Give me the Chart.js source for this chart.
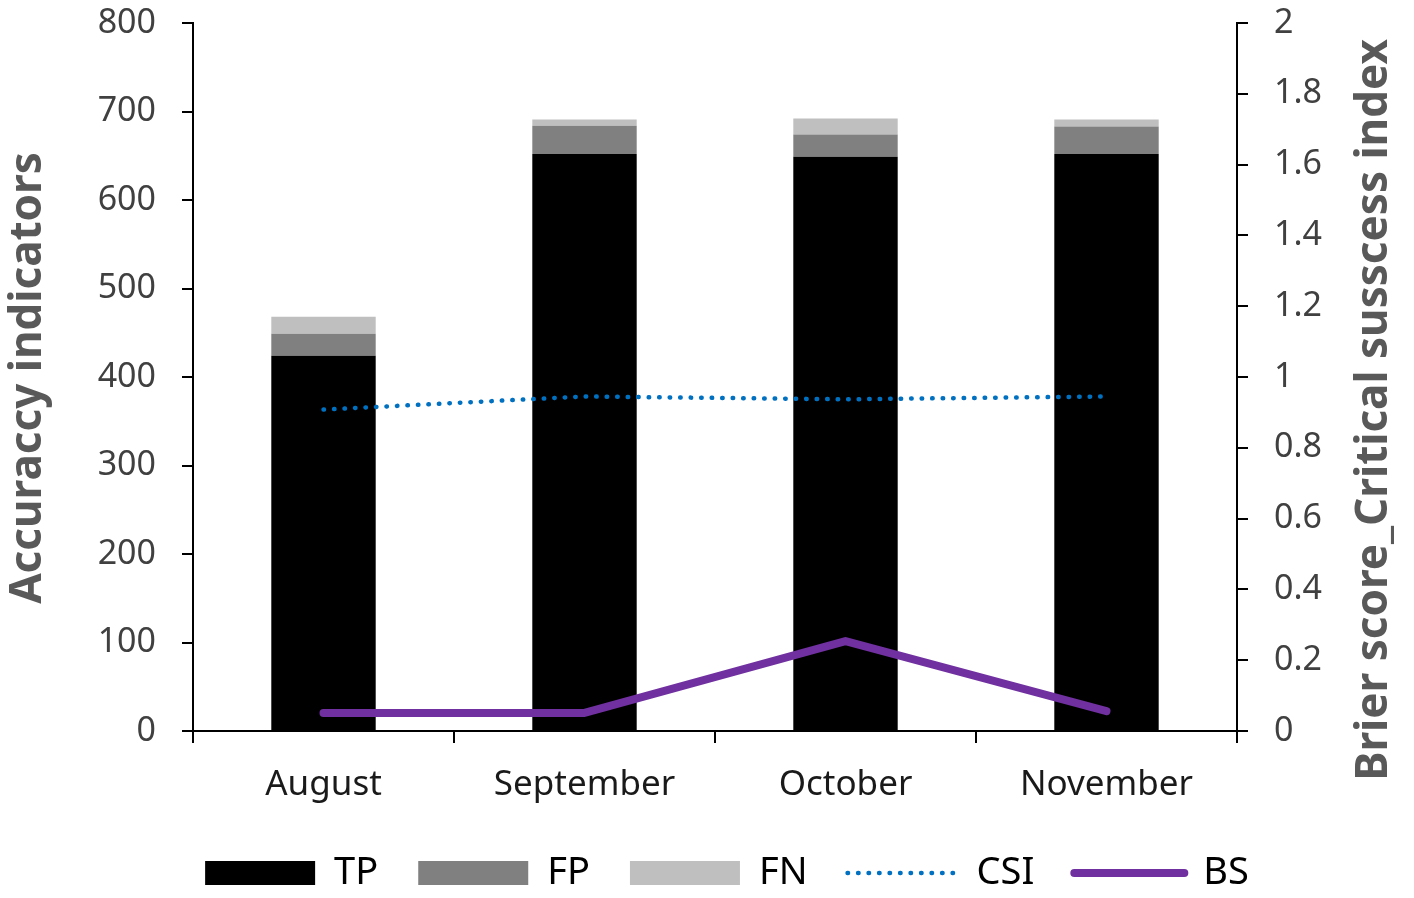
<!DOCTYPE html>
<html>
<head>
<meta charset="utf-8">
<script src="https://cdn.jsdelivr.net/npm/chart.js@4"></script>
<style>
html,body{margin:0;padding:0;background:#fff;}
#wrap{width:1414px;height:898px;}
</style>
</head>
<body>
<div id="wrap"><canvas id="c" width="1414" height="898"></canvas></div>
<script>
const categories = ["August", "September", "October", "November"];
const tpValues = [424, 652, 649, 652];
const fpValues = [25, 32, 25, 31];
const fnValues = [19, 7, 18, 8];
const csiValues = [0.908, 0.945, 0.937, 0.945];
const bsValues = [0.051, 0.051, 0.254, 0.056];
const leftTicks = [0, 100, 200, 300, 400, 500, 600, 700, 800];
const rightTicks = [0, 0.2, 0.4, 0.6, 0.8, 1, 1.2, 1.4, 1.6, 1.8, 2];
const leftTitle = "Accuraccy indicators";
const rightTitle = "Brier score_Critical susscess index";

const FONT = "'Noto Sans', sans-serif";
const GRAY = "#595959";
const TICKGRAY = "#404040";

const titlesPlugin = {
  id: 'axisTitles',
  afterDraw(chart) {
    const ctx = chart.ctx;
    const ca = chart.chartArea;
    const mid = (ca.top + ca.bottom) / 2;
    ctx.save();
    ctx.fillStyle = GRAY;
    ctx.font = "bold 44px " + FONT;
    ctx.textAlign = 'center';
    ctx.textBaseline = 'middle';
    ctx.save();
    ctx.translate(28, mid + 1);
    ctx.rotate(-Math.PI / 2);
    ctx.fillText(leftTitle, 0, 0);
    ctx.restore();
    ctx.save();
    ctx.translate(1374, mid + 33);
    ctx.rotate(-Math.PI / 2);
    ctx.fillText(rightTitle, 0, 0);
    ctx.restore();
    ctx.restore();
  }
};

function fitVertical(width) {
  return function(axis) {
    axis.width = width;
    axis.paddingTop = 0;
    axis.paddingBottom = 0;
  };
}

new Chart(document.getElementById('c'), {
  data: {
    labels: categories,
    datasets: [
      {type:'bar', label:'TP', data: tpValues, backgroundColor:'#000000', order:1, yAxisID:'y'},
      {type:'bar', label:'FP', data: fpValues, backgroundColor:'#808080', order:1, yAxisID:'y'},
      {type:'bar', label:'FN', data: fnValues, backgroundColor:'#BFBFBF', order:1, yAxisID:'y'},
      {type:'line', label:'CSI', data: csiValues, borderColor:'#0070C0', borderWidth:4.5, borderDash:[0.5,10], borderCapStyle:'round', pointRadius:0, fill:false, order:0, yAxisID:'y1', tension:0},
      {type:'line', label:'BS', data: bsValues, borderColor:'#7030A0', borderWidth:8, borderCapStyle:'round', borderJoinStyle:'round', pointRadius:0, fill:false, order:0, yAxisID:'y1', tension:0}
    ]
  },
  plugins: [titlesPlugin],
  options: {
    responsive:false,
    animation:false,
    layout:{padding:{left:40, right:0, top:23, bottom:-4}},
    datasets:{bar:{categoryPercentage:1, barPercentage:0.4}},
    plugins:{
      tooltip:{enabled:false},
      legend:{
        position:'bottom',
        labels:{
          usePointStyle:true,
          pointStyleWidth:110,
          boxHeight:24,
          padding:40,
          color:'#000',
          font:{family:FONT, size:38},
          generateLabels(chart){
            return chart.data.datasets.map((ds,i)=>{
              const isLine = ds.type==='line';
              return {
                text: ds.label,
                datasetIndex:i,
                pointStyle: isLine ? 'line' : 'rect',
                fillStyle: isLine ? ds.borderColor : ds.backgroundColor,
                strokeStyle: isLine ? ds.borderColor : ds.backgroundColor,
                lineWidth: isLine ? ds.borderWidth : 0,
                lineDash: isLine && ds.borderDash ? ds.borderDash : [],
                lineCap: 'round',
                fontColor:'#000',
                hidden:false
              };
            });
          }
        }
      }
    },
    scales:{
      x:{
        stacked:true,
        afterFit(axis){ axis.height = 83; },
        grid:{display:true, drawOnChartArea:false, drawTicks:true, tickLength:12, color:'#000', lineWidth:2, offset:true},
        border:{display:true, color:'#000', width:2},
        ticks:{color:'#1a1a1a', font:{family:FONT, size:35}, padding:21}
      },
      y:{
        stacked:true,
        min:0, max:800,
        afterFit: fitVertical(153),
        afterBuildTicks(axis){ axis.ticks = leftTicks.map(v=>({value:v})); },
        grid:{display:true, drawOnChartArea:false, drawTicks:true, tickLength:11, color:'#000', lineWidth:2},
        border:{display:true, color:'#000', width:2},
        ticks:{color:TICKGRAY, font:{family:FONT, size:34}, padding:26, callback:(v)=>String(v)}
      },
      y1:{
        position:'right',
        min:0, max:2,
        afterFit: fitVertical(177),
        afterBuildTicks(axis){ axis.ticks = rightTicks.map(v=>({value:v})); },
        grid:{display:true, drawOnChartArea:false, drawTicks:true, tickLength:11, color:'#000', lineWidth:2},
        border:{display:true, color:'#000', width:2},
        ticks:{color:TICKGRAY, font:{family:FONT, size:34}, padding:26, callback:(v)=>String(v)}
      }
    }
  }
});
</script>
</body>
</html>
